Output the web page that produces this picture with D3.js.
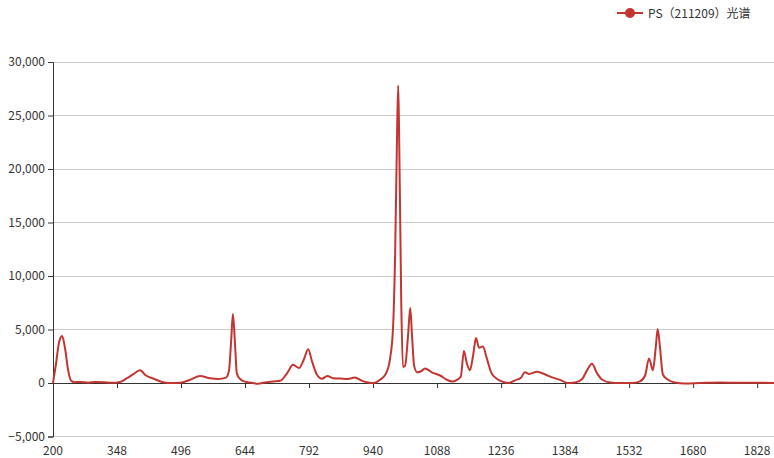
<!DOCTYPE html>
<html><head><meta charset="utf-8">
<script src="https://cdn.jsdelivr.net/npm/d3@7"></script>
<style>body{margin:0;background:#fff}svg{display:block}text{font-family:"Microsoft YaHei","Noto Sans CJK SC",sans-serif}</style>
</head><body><svg id="c" width="774" height="458"></svg>
<script>
const seriesName = "PS（211209）光谱";
const wavenumbers = [200,207,214,221,228,235,242,249,262,281,299,318,336,355,369,385,401,415,436,454,475,494,517,540,563,582,600,607,612,616,621,625,632,646,660,674,690,709,725,741,755,769,780,790,799,810,822,834,848,864,882,898,915,928,942,956,970,979,986,991,995,998,1000,1005,1009,1014,1021,1026,1030,1035,1042,1051,1060,1076,1095,1111,1123,1132,1143,1150,1157,1164,1171,1178,1185,1194,1203,1213,1226,1241,1254,1268,1282,1291,1301,1319,1338,1356,1375,1389,1407,1423,1435,1446,1458,1470,1488,1511,1539,1557,1569,1578,1587,1594,1598,1603,1610,1622,1638,1661,1696,1742,1789,1835,1867];
const intensity = [0,1800,3800,4400,3200,1200,200,80,100,30,100,80,20,100,400,800,1200,700,350,80,0,20,300,650,450,380,500,1200,4000,6450,3500,900,400,100,20,-80,50,150,200,900,1700,1400,2200,3150,2000,800,400,650,450,420,380,520,200,50,0,300,900,2200,5000,12000,22000,27800,24000,8000,1500,1600,4500,7000,4500,1600,1000,1100,1350,1000,700,300,150,250,600,3000,1800,1200,2500,4200,3300,3400,2300,1000,400,100,0,250,500,1000,850,1050,800,500,250,0,50,350,1200,1800,900,300,50,0,0,150,700,2300,1200,3500,5050,3500,800,300,50,-50,0,50,20,30,0];
const xTicks = [200,348,496,644,792,940,1088,1236,1384,1532,1680,1828];
const yTicks = [-5000,0,5000,10000,15000,20000,25000,30000];

const svg = d3.select("#c");
const L = 53, R = 774, T = 62, B = 436.5;
const x = d3.scaleLinear().domain([200, 1867]).range([L, R]);
const y = d3.scaleLinear().domain([-5000, 30000]).range([B, T]);
const color = "#c23531";
const fmt = d3.format(",");

// grid lines
svg.append("g").selectAll("line").data(yTicks.filter(d => d !== 0)).join("line")
  .attr("x1", L).attr("x2", R).attr("y1", d => y(d)).attr("y2", d => y(d))
  .attr("stroke", "#ccc").attr("stroke-width", 1).attr("shape-rendering","crispEdges");

// y axis
const yAxis = d3.axisLeft(y).tickValues(yTicks).tickFormat(fmt).tickSize(5).tickPadding(3);
const gy = svg.append("g").attr("transform", `translate(${L},0)`).call(yAxis);
gy.select(".domain").attr("stroke", "#333");
gy.selectAll(".tick line").attr("stroke", "#333");
gy.selectAll("text").attr("fill", "#333").attr("font-size", 12);

// x axis at zero
const xAxis = d3.axisBottom(x).tickValues(xTicks).tickSize(5).tickFormat("");
const gx = svg.append("g").attr("transform", `translate(0,${y(0)})`).call(xAxis);
gx.select(".domain").attr("stroke", "#333").attr("d", `M${L},0.5H${R}`);
gx.selectAll(".tick line").attr("stroke", "#333");
// x labels at bottom
svg.append("g").selectAll("text").data(xTicks).join("text")
  .attr("x", d => x(d)).attr("y", 455).attr("text-anchor", "middle")
  .attr("fill", "#333").attr("font-size", 12).text(d => d);

// line
const pts = wavenumbers.map((w, i) => [w, intensity[i]]);
const line = d3.line().x(d => x(d[0])).y(d => y(d[1])).curve(d3.curveMonotoneX);
svg.append("path").datum(pts).attr("d", line).attr("fill", "none")
  .attr("stroke", color).attr("stroke-width", 2).attr("stroke-linejoin", "round");

// legend
const lg = svg.append("g").attr("transform", "translate(617,13)");
lg.append("line").attr("x1", 0).attr("x2", 26).attr("y1", 0).attr("y2", 0).attr("stroke", color).attr("stroke-width", 2);
lg.append("circle").attr("cx", 13).attr("cy", 0).attr("r", 5).attr("fill", color);
lg.append("text").attr("x", 31).attr("y", 4.5).attr("font-size", 12).attr("fill", "#333").text(seriesName);
</script></body></html>
